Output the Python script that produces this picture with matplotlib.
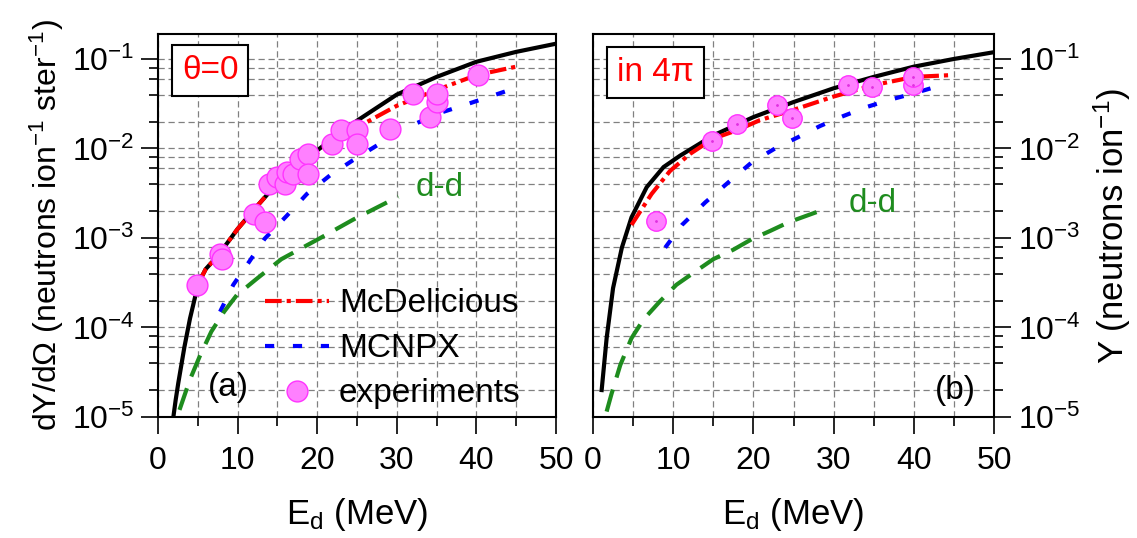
import matplotlib
matplotlib.use('Agg')
import matplotlib.pyplot as plt
from matplotlib.ticker import LogLocator, MultipleLocator, NullFormatter

plt.rcParams['font.family'] = ['Liberation Sans', 'DejaVu Sans']
plt.rcParams['mathtext.fontset'] = 'custom'
plt.rcParams['mathtext.rm'] = 'Liberation Sans'
plt.rcParams['mathtext.it'] = 'Liberation Sans:italic'
plt.rcParams['mathtext.bf'] = 'Liberation Sans:bold'

# ---- (a) theta = 0, per steradian ----
a_tot_E = [1.93, 2.22, 2.55, 3.31, 4.02, 5.06, 6.0, 7.5, 10, 12.5, 15, 17.5, 20, 22.5, 25,
           30, 35, 40, 45, 50]
a_tot_Y = [1e-5, 1.55e-5, 2.4e-5, 6.0e-5, 1.26e-4, 3.1e-4, 4.5e-4, 6.3e-4, 1.26e-3, 2.3e-3,
           4.1e-3, 6.5e-3, 9.5e-3, 0.0141, 0.0204, 0.040, 0.063, 0.093, 0.12, 0.148]

a_mcd_E = [5.06, 6.0, 7.5, 10, 12.5, 15, 17.5, 20, 22.5, 25, 30, 35, 40, 45]
a_mcd_Y = [3.1e-4, 4.5e-4, 6.3e-4, 1.26e-3, 2.3e-3, 4.1e-3, 6.3e-3, 9.0e-3, 0.0125, 0.0172,
           0.030, 0.045, 0.066, 0.082]

a_mcnpx_E = [7.8, 9.46, 11.5, 13.4, 16.2, 18.7, 21.6, 24.5, 27.5, 30.4, 33.3, 35.8, 39, 41.7, 44.8]
a_mcnpx_Y = [1.5e-4, 3.0e-4, 5.5e-4, 9.8e-4, 1.78e-3, 3.1e-3, 5e-3, 7.4e-3, 0.0108, 0.0159,
             0.0206, 0.0256, 0.0316, 0.038, 0.047]

a_dd_E = [2.7, 4.0, 5.3, 6.7, 8.3, 9.9, 12.4, 15.5, 20.4, 24.5, 30.2]
a_dd_Y = [1.2e-5, 2.6e-5, 4.9e-5, 9e-5, 1.5e-4, 2.3e-4, 3.5e-4, 5.8e-4, 1.0e-3, 1.6e-3, 2.9e-3]

a_exp_E = [4.9, 7.8, 8.0, 12.0, 13.4, 13.9, 14.9, 15.9, 16.2, 17.0, 17.8, 18.9, 18.9,
           21.9, 23.0, 25.0, 25.0, 29.1, 32.0, 34.2, 35.0, 35.0, 40.2]
a_exp_Y = [3.0e-4, 6.6e-4, 5.8e-4, 1.87e-3, 1.5e-3, 4.0e-3, 4.8e-3, 4.0e-3, 5.4e-3, 5.2e-3,
           7.6e-3, 8.7e-3, 5.2e-3, 0.0112, 0.0159, 0.0159, 0.0112, 0.0166, 0.041, 0.0225,
           0.033, 0.041, 0.067]

# ---- (b) total yield in 4 pi ----
b_tot_E = [1.08, 1.7, 2.5, 3.6, 4.8, 6.7, 8.8, 10.85, 15, 20, 25, 30, 35, 40, 45, 50]
b_tot_Y = [2e-5, 7.6e-5, 2.75e-4, 7.8e-4, 1.7e-3, 3.7e-3, 6.2e-3, 8.3e-3, 0.014, 0.0224,
           0.033, 0.047, 0.063, 0.082, 0.1, 0.119]

b_mcd_E = [4.8, 7.3, 9.6, 12.1, 15, 17.9, 20.8, 25, 30, 35, 40, 44.7]
b_mcd_Y = [1.4e-3, 3.1e-3, 5.6e-3, 8.7e-3, 0.0129, 0.0159, 0.0207, 0.027, 0.038, 0.051, 0.063, 0.066]

b_mcnpx_E = [9.0, 11.1, 14.0, 16.9, 19.8, 22.7, 25.6, 28.3, 31.2, 34.1, 37.0, 39.9, 42.8]
b_mcnpx_Y = [7.8e-4, 1.4e-3, 2.5e-3, 4.2e-3, 7e-3, 0.01, 0.0134, 0.0178, 0.023, 0.029,
             0.035, 0.041, 0.049]

b_dd_E = [1.7, 2.3, 3.4, 4.8, 6.3, 8.35, 10.4, 12.9, 15, 17.5, 19.8, 22.1, 24.4, 28.9]
b_dd_Y = [1.15e-5, 1.8e-5, 3.8e-5, 7.6e-5, 1.23e-4, 1.96e-4, 3e-4, 4.3e-4, 5.8e-4, 7.4e-4,
          9.7e-4, 1.2e-3, 1.5e-3, 2.1e-3]

b_exp_E = [7.9, 14.9, 17.9, 22.9, 24.8, 31.8, 34.75, 39.9, 39.9]
b_exp_Y = [1.55e-3, 0.0121, 0.019, 0.0304, 0.0219, 0.051, 0.049, 0.051, 0.063]

red_ls = (0, (4, 1.2, 1, 1.2))
blue_ls = (0, (2.2, 4.5))
green_ls = (0, (5.5, 3))
green = '#1e8c1e'

fig = plt.figure(figsize=(11.37, 5.38), dpi=100)
ax1 = fig.add_axes([158 / 1137, 1 - 417 / 538, 398 / 1137, 383 / 538])
ax2 = fig.add_axes([593 / 1137, 1 - 417 / 538, 401 / 1137, 383 / 538])

for ax in (ax1, ax2):
    ax.set_yscale('log')
    ax.set_xlim(0, 50)
    ax.set_ylim(1e-5, 0.19)
    ax.xaxis.set_major_locator(MultipleLocator(10))
    ax.xaxis.set_minor_locator(MultipleLocator(5))
    ax.yaxis.set_major_locator(LogLocator(base=10))
    ax.yaxis.set_minor_locator(LogLocator(base=10, subs=(2, 4, 6, 8)))
    ax.yaxis.set_minor_formatter(NullFormatter())
    ax.set_axisbelow(True)
    ax.grid(True, which='both', color='0.5', linestyle=(0, (5, 3)), linewidth=0.9)
    ax.tick_params(which='major', direction='out', length=12, width=1.2, labelsize=23, pad=5)
    ax.tick_params(axis='x', which='major', pad=9)
    ax.tick_params(which='minor', direction='out', length=6.5, width=1.2)
    for s in ax.spines.values():
        s.set_linewidth(1.5)
    ax.set_xlabel('E$_{\\rm d}$ (MeV)', fontsize=25, labelpad=14)

# panel (a)
ax1.plot(a_tot_E, a_tot_Y, color='black', lw=3)
ax1.plot(a_mcd_E, a_mcd_Y, color='red', lw=3, linestyle=red_ls, label='McDelicious')
ax1.plot(a_mcnpx_E, a_mcnpx_Y, color='blue', lw=3, linestyle=blue_ls, label='MCNPX')
ax1.plot(a_dd_E, a_dd_Y, color=green, lw=3, linestyle=green_ls)
ax1.plot(a_exp_E, a_exp_Y, 'o', ms=15, mfc='#ff80ff', mec='#ff33ff', mew=1, ls='none',
         label='experiments', zorder=5)
ax1.set_ylabel('dY/d$\\Omega$ (neutrons ion$^{-1}$ ster$^{-1}$)', fontsize=23, labelpad=4)
ax1.text(0.131, 0.906, '\u03b8=0', color='red', fontsize=24, ha='center', va='center',
         transform=ax1.transAxes,
         bbox=dict(boxstyle='square,pad=0.3', fc='white', ec='black', lw=1.5))
ax1.text(0.178, 0.076, '(a)', fontsize=24, ha='center', va='center', transform=ax1.transAxes)
ax1.text(35.4, 3.7e-3, 'd-d', color=green, fontsize=24, ha='center', va='center')
ax1.legend(loc='lower left', bbox_to_anchor=(0.27, 0.02), frameon=False, fontsize=24,
           handlelength=1.9, handletextpad=0.3, labelspacing=0.42, borderpad=0,
           borderaxespad=0)

# panel (b)
ax2.plot(b_tot_E, b_tot_Y, color='black', lw=3)
ax2.plot(b_mcd_E, b_mcd_Y, color='red', lw=3, linestyle=red_ls)
ax2.plot(b_mcnpx_E, b_mcnpx_Y, color='blue', lw=3, linestyle=blue_ls)
ax2.plot(b_dd_E, b_dd_Y, color=green, lw=3, linestyle=green_ls)
ax2.plot(b_exp_E, b_exp_Y, 'o', ms=14, mfc='#ff80ff', mec='#ff33ff', mew=1, ls='none', zorder=5)
ax2.plot(b_exp_E, b_exp_Y, '.', ms=2, color='#e030e0', ls='none', zorder=6)
ax2.yaxis.tick_right()
ax2.yaxis.set_label_position('right')
ax2.set_ylabel('Y (neutrons ion$^{-1}$)', fontsize=25, labelpad=8)
ax2.text(0.156, 0.9, 'in 4\u03c0', color='red', fontsize=24, ha='center', va='center',
         transform=ax2.transAxes,
         bbox=dict(boxstyle='square,pad=0.3', fc='white', ec='black', lw=1.5))
ax2.text(0.903, 0.07, '(b)', fontsize=24, ha='center', va='center', transform=ax2.transAxes)
ax2.text(34.9, 2.4e-3, 'd-d', color=green, fontsize=24, ha='center', va='center')

fig.savefig('out.png', dpi=100)
